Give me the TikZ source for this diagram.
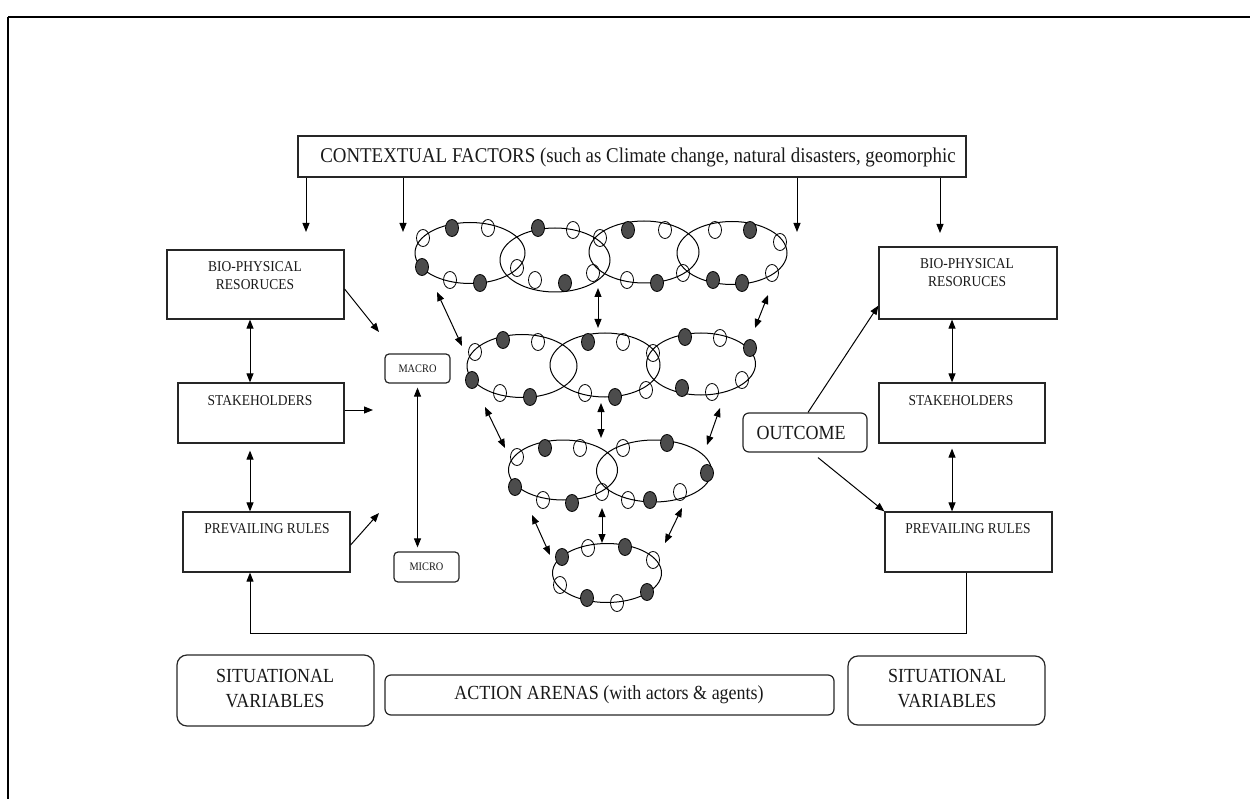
\documentclass[tikz,border=0pt]{standalone}
\usepackage{fontspec}
\setmainfont{Liberation Serif}
\usetikzlibrary{arrows.meta,shapes.geometric}
\newcommand\fsz[2]{\fontsize{#1}{#2}\selectfont}
\newcommand\sq[1]{\scalebox{0.9}[1]{#1}}
\begin{document}
\begin{tikzpicture}[x=1pt,y=-1pt,
  box/.style={draw=black!85, line width=1.2pt, inner sep=0pt, rectangle},
  rbox/.style={box, rounded corners=#1},
  lbl/.style={inner sep=0pt, align=center, text=black!90},
  arr/.style={-{Triangle[length=9pt,width=7pt]}, line width=1pt},
  darr/.style={{Triangle[length=9pt,width=7pt]}-{Triangle[length=9pt,width=7pt]}, line width=1pt},
  ring/.style={draw, ellipse, line width=1pt, inner sep=0pt},
  op/.style={draw, ellipse, line width=0.8pt, minimum width=13pt, minimum height=17pt, inner sep=0pt},
  fl/.style={op, fill=black!70}]
\useasboundingbox (0,0) rectangle (1250,799);
% frame
\draw[line width=2.5pt] (8,17) -- (1250,17);
\draw[line width=1.5pt] (8,17) -- (8,799);

% top box
\node[box, minimum width=668pt, minimum height=41pt] (ctx) at (632,156.5) {};
\node[lbl, font=\fsz{21}{24}] (ctx-t) at (638,157) {\sq{CONTEXTUAL FACTORS (such as Climate change, natural disasters, geomorphic}};
\coordinate (t1) at (306,232);
\coordinate (t2) at (403,232);
\coordinate (t3) at (797,232);
\coordinate (t4) at (940,233);
\foreach \t in {t1,t2,t3,t4} \draw[arr] (\t |- ctx.south) -- (\t);

% left boxes
\node[box, minimum width=177pt, minimum height=69pt] (lbio) at (255.5,284.5) {};
\node[lbl, font=\fsz{15}{18}] (lbio-t) at (255,276) {\sq{BIO-PHYSICAL}\\\sq{RESORUCES}};
\node[box, minimum width=166pt, minimum height=60pt] (lstk) at (261,413) {};
\node[lbl, font=\fsz{15}{18}] (lstk-t) at (260,401) {\sq{STAKEHOLDERS}};
\node[box, minimum width=167pt, minimum height=60pt] (lrul) at (266.5,542) {};
\node[lbl, font=\fsz{15}{18}] (lrul-t) at (267,529) {\sq{PREVAILING RULES}};
\coordinate (xl) at (250,300);
\draw[darr] (lbio.south -| xl) -- (lstk.north -| xl);
\draw[darr, shorten <=7pt] (lstk.south -| xl) -- (lrul.north -| xl);

\coordinate (m1) at (379,332);
\coordinate (m2) at (373,410);
\coordinate (m3) at (379,513);
\draw[arr] ([yshift=-4.5pt]lbio.east) -- (m1);
\draw[arr] ([yshift=3pt]lstk.east) -- (m2);
\draw[arr] ([yshift=-3pt]lrul.east) -- (m3);

% macro / micro
\node[rbox=4pt, minimum width=65pt, minimum height=29pt] (macro) at (417.5,368.5) {};
\node[lbl, font=\fsz{11.5}{13}] (macro-t) at (417.5,369) {\sq{MACRO}};
\node[rbox=4pt, minimum width=65pt, minimum height=30pt] (micro) at (426.5,567) {};
\node[lbl, font=\fsz{11.5}{13}] (micro-t) at (426.5,567) {\sq{MICRO}};
\draw[darr, shorten <=4pt, shorten >=4pt] (macro.south) -- (macro.south |- micro.north);

% right boxes
\node[box, minimum width=178pt, minimum height=72pt] (rbio) at (968,283) {};
\node[lbl, font=\fsz{15}{18}] (rbio-t) at (967,273) {\sq{BIO-PHYSICAL}\\\sq{RESORUCES}};
\node[box, minimum width=166pt, minimum height=60pt] (rstk) at (962,413) {};
\node[lbl, font=\fsz{15}{18}] (rstk-t) at (961,401) {\sq{STAKEHOLDERS}};
\node[box, minimum width=167pt, minimum height=60pt] (rrul) at (968.5,542) {};
\node[lbl, font=\fsz{15}{18}] (rrul-t) at (968,529) {\sq{PREVAILING RULES}};
\coordinate (xr) at (952,300);
\draw[darr] (rbio.south -| xr) -- (rstk.north -| xr);
\draw[darr, shorten <=5pt] (rstk.south -| xr) -- (rrul.north -| xr);

% outcome
\node[rbox=6pt, minimum width=124pt, minimum height=39pt] (outcome) at (805,432.5) {};
\node[lbl, font=\fsz{20}{24}] (outcome-t) at (801,433) {\sq{OUTCOME}};
\draw[arr] ([xshift=3pt]outcome.north) -- ([yshift=14pt]rbio.south west);
\draw[arr] ([xshift=13pt,yshift=-5pt]outcome.south) -- (rrul.north west);

% feedback
\coordinate (fb1) at (966,633);
\coordinate (fb2) at (250,633);
\draw[arr] (rrul.south -| fb1) -- (fb1) -- (fb2) -- (lrul.south -| fb2);

% bottom boxes
\node[rbox=10pt, minimum width=197pt, minimum height=71pt] (lsit) at (275.5,690.5) {};
\node[lbl, font=\fsz{20}{25}] (lsit-t) at (275,689) {\sq{SITUATIONAL}\\\sq{VARIABLES}};
\node[rbox=6pt, minimum width=449pt, minimum height=40pt] (act) at (609.5,695) {};
\node[lbl, font=\fsz{20}{24}] (act-t) at (609,695) {\sq{ACTION ARENAS (with actors \& agents)}};
\node[rbox=10pt, minimum width=197pt, minimum height=69pt] (rsit) at (946.5,690.5) {};
\node[lbl, font=\fsz{20}{25}] (rsit-t) at (947,689) {\sq{SITUATIONAL}\\\sq{VARIABLES}};

% action arena rings
\node[ring, minimum width=110pt, minimum height=61pt] (e1) at (470,253) {};
\node[ring, minimum width=110pt, minimum height=64pt] (e2) at (555,260) {};
\node[ring, minimum width=110pt, minimum height=62pt] (e3) at (644,252) {};
\node[ring, minimum width=110pt, minimum height=63pt] (e4) at (732,253) {};
\node[ring, minimum width=110pt, minimum height=63pt] (e5) at (522,366) {};
\node[ring, minimum width=110pt, minimum height=64pt] (e6) at (605,365) {};
\node[ring, minimum width=109pt, minimum height=62pt] (e7) at (701,364) {};
\node[ring, minimum width=109pt, minimum height=60pt] (e8) at (563,470) {};
\node[ring, minimum width=115pt, minimum height=62pt] (e9) at (654,471) {};
\node[ring, minimum width=109pt, minimum height=59pt] (e10) at (607,573) {};

% actors (open) and agents (filled)
\foreach \x/\y/\s [count=\i] in {
  423/238/op, 452/228/fl, 488/228/op, 422/267/fl, 450/280/op, 480/283/fl, 517/268/op,
  538/228/fl, 573/230/op, 535/280/op, 565/283/fl, 593/273/op, 600/238/op,
  628/230/fl, 665/230/op, 627/280/op, 657/283/fl, 683/273/op,
  715/230/op, 750/230/fl, 780/242/op, 713/280/fl, 742/283/fl, 772/273/op,
  475/352/op, 503/340/fl, 538/342/op, 472/380/fl, 500/393/op, 530/397/fl,
  588/342/fl, 623/342/op, 585/393/op, 615/397/fl, 646/390/op, 653/353/op,
  685/337/fl, 720/338/op, 750/348/fl, 742/380/op, 712/392/op, 682/388/fl,
  517/457/op, 545/448/fl, 580/448/op, 515/487/fl, 543/500/op, 572/503/fl, 602/492/op,
  623/448/op, 667/443/fl, 707/473/fl, 680/492/op, 650/500/fl, 628/500/op,
  562/557/fl, 588/548/op, 625/547/fl, 653/560/op, 560/585/op, 587/598/fl, 617/603/op, 647/592/fl}
  \node[\s] (c\i) at (\x,\y) {};

% links between arena levels
\coordinate (p1a) at (437,292); \coordinate (p1b) at (462,346);
\coordinate (p2a) at (598,288); \coordinate (p2b) at (598,328);
\coordinate (p3a) at (768,295); \coordinate (p3b) at (755,328);
\coordinate (p4a) at (485,407); \coordinate (p4b) at (505,448);
\coordinate (p5a) at (601,403); \coordinate (p5b) at (601,438);
\coordinate (p6a) at (720,408); \coordinate (p6b) at (707,445);
\coordinate (p7a) at (532,515); \coordinate (p7b) at (550,555);
\coordinate (p8a) at (602,508); \coordinate (p8b) at (602,543);
\coordinate (p9a) at (682,508); \coordinate (p9b) at (665,543);
\foreach \k in {1,...,9} \draw[darr] (p\k a) -- (p\k b);
\end{tikzpicture}
\end{document}
